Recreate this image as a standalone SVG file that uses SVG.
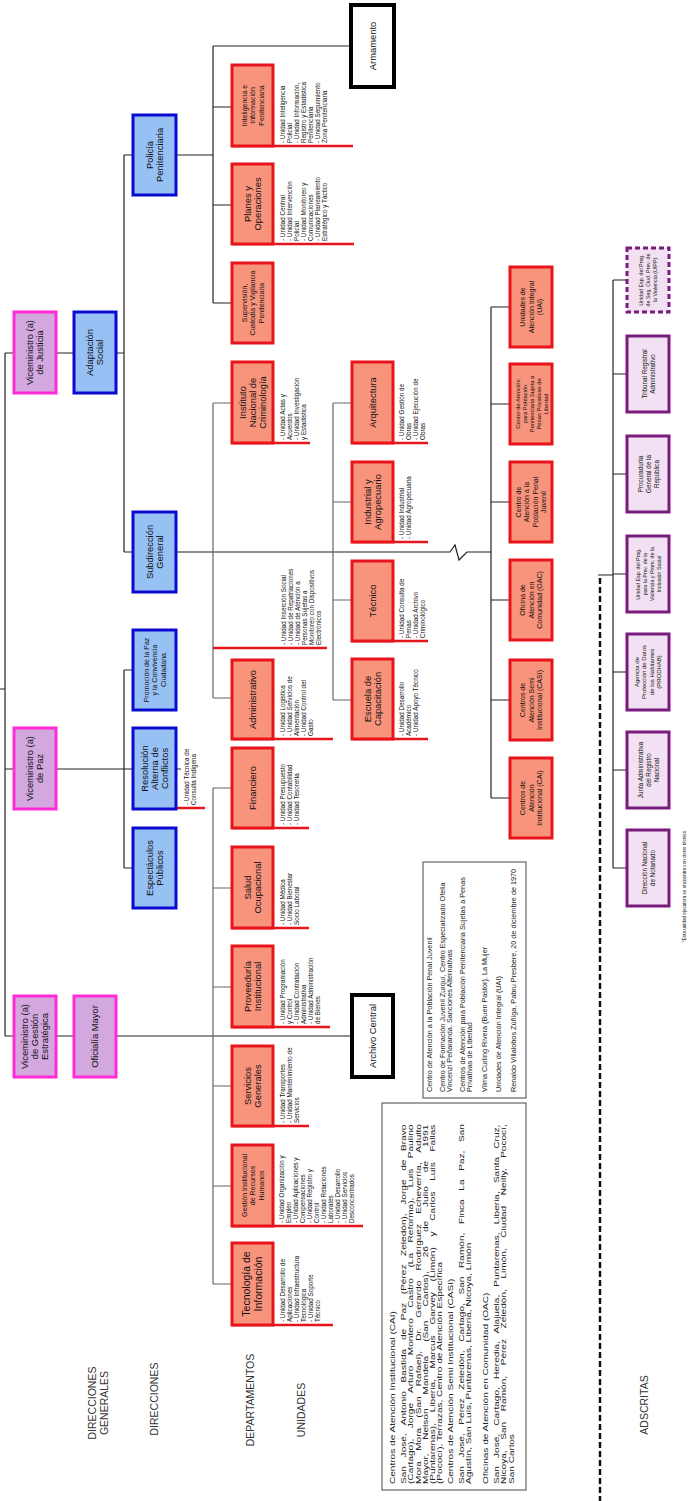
<svg xmlns="http://www.w3.org/2000/svg" width="695" height="1501" viewBox="0 0 695 1501">
<style>
text{font-family:"Liberation Sans",Arial,sans-serif;fill:#111}
.vm{fill:#D2A8DE;stroke:#FF2BD6;stroke-width:3}
.bl{fill:#97C0F4;stroke:#0A0AD0;stroke-width:3}
.rd{fill:#F8937C;stroke:#E8141B;stroke-width:3}
.bk{fill:#fff;stroke:#000;stroke-width:4}
.ad{fill:#F1E1F2;stroke:#7A1B7E;stroke-width:3}
.ln{fill:none;stroke:#222;stroke-width:1.2}
.gl{fill:none;stroke:#666;stroke-width:1.2}
.ul{fill:none;stroke:#E8141B;stroke-width:2.5}
.tb{fill:#fff;stroke:#444;stroke-width:1}
.n{font-size:9.4px;text-anchor:middle}
.s{font-size:7px;text-anchor:middle}
.u{font-size:6.3px}
.lb{font-size:10.5px;text-anchor:middle;fill:#333}
.p{font-size:7.2px;fill:#222}
</style>
<g id="connectors">
<path class="ln" d="M0 689H5M5 353V1036M5 353H14M5 769H14M5 1036H14M56 353H74M116 353H124M124 155V552M124 155H133M124 552H133M56 769H124M124 670V868M124 670H133M124 868H133M124 769H133M56 1036H74M116 1036H352M176 769H181"/>
<path class="ln" d="M176 155H213M213 46V303M213 46H351M213 107H232M213 205H232M213 303H232"/>
<path class="ln" d="M176 552H450L455 545L459 560L467 552H491"/>
<path class="gl" d="M213 403V698M213 403H232M213 698H232"/>
<path class="gl" d="M333 403V700M333 403H352M333 502H352M333 600H352M333 700H352"/>
<path class="ln" d="M491 307V798M491 307H510M491 404H510M491 502H510M491 600H510M491 700H510M491 798H510"/>
<path class="gl" d="M213 788V1284M213 788H232M213 888H232M213 987H232M213 1086H232M213 1186H232M213 1284H232"/>
<path class="ln" d="M613 280V868M598 575H613M613 280H627M613 374H627M613 474H627M613 574H627M613 672H627M613 770H627M613 868H627"/>
<path fill="none" stroke="#111" stroke-width="2.5" stroke-dasharray="6 3" d="M600 578V1501"/>
<path class="ul" d="M232 146H353M232 244H354M232 443H310M213 648H327M232 739H333M232 828H309M232 928H309M232 1027H330M232 1126H309M232 1226H363M232 1325H333M153 808H205M352 443H428M352 542H428M352 641H428M352 739H428"/>
</g>

<g id="vm-justicia"><rect class="vm" x="14" y="312" width="42" height="81"/><text class="n" transform="translate(35 352.5) rotate(-90)"><tspan x="0" y="-1.8">Viceministro (a)</tspan><tspan x="0" y="8.4">de Justicia</tspan></text></g>
<g id="vm-paz"><rect class="vm" x="14" y="728" width="42" height="81"/><text class="n" transform="translate(35 768.5) rotate(-90)"><tspan x="0" y="-1.8">Viceministro (a)</tspan><tspan x="0" y="8.4">de Paz</tspan></text></g>
<g id="vm-gestion"><rect class="vm" x="14" y="996" width="42" height="81"/><text class="n" transform="translate(35 1036.5) rotate(-90)"><tspan x="0" y="-6.8">Viceministro (a)</tspan><tspan x="0" y="3.3">de Gestión</tspan><tspan x="0" y="13.4">Estratégica</tspan></text></g>
<g id="adaptacion-social"><rect class="bl" x="74" y="312" width="42" height="81"/><text class="n" transform="translate(95 352.5) rotate(-90)"><tspan x="0" y="-1.8">Adaptación</tspan><tspan x="0" y="8.4">Social</tspan></text></g>
<g id="oficialia-mayor"><rect class="vm" x="74" y="996" width="42" height="81"/><text class="n" transform="translate(95 1036.5) rotate(-90)"><tspan x="0" y="3.3">Oficialía Mayor</tspan></text></g>

<g id="policia"><rect class="bl" x="133" y="115" width="43" height="80"/><text class="n" transform="translate(154.5 155) rotate(-90)"><tspan x="0" y="-1.8">Policía</tspan><tspan x="0" y="8.4">Penitenciaria</tspan></text></g>
<g id="subdireccion"><rect class="bl" x="133" y="512" width="43" height="80"/><text class="n" transform="translate(154.5 552) rotate(-90)"><tspan x="0" y="-1.8">Subdirección</tspan><tspan x="0" y="8.4">General</tspan></text></g>
<g id="promocion"><rect class="bl" x="133" y="630" width="43" height="80"/><text class="s" transform="translate(154.5 670) rotate(-90)"><tspan x="0" y="-6">Promoción de la Paz</tspan><tspan x="0" y="2.5">y la Convivencia</tspan><tspan x="0" y="11">Ciudadana</tspan></text></g>
<g id="resolucion"><rect class="bl" x="133" y="728" width="43" height="81"/><text class="n" transform="translate(154.5 768.5) rotate(-90)"><tspan x="0" y="-6.8">Resolución</tspan><tspan x="0" y="3.3">Alterna de</tspan><tspan x="0" y="13.4">Conflictos</tspan></text><text class="u" transform="translate(189 805) rotate(-90)"><tspan x="0" y="0">- Unidad Técnica de</tspan><tspan x="0" y="7">Consulta Indígena</tspan></text></g>
<g id="espectaculos"><rect class="bl" x="133" y="828" width="43" height="80"/><text class="n" transform="translate(154.5 868) rotate(-90)"><tspan x="0" y="-1.8">Espectáculos</tspan><tspan x="0" y="8.4">Públicos</tspan></text></g>

<g id="armamento"><rect class="bk" x="351" y="5" width="43" height="82"/><text class="n" transform="translate(372.5 46) rotate(-90)"><tspan x="0" y="3.3">Armamento</tspan></text></g>
<g id="inteligencia"><rect class="rd" x="232" y="65" width="41" height="81"/><text class="s" transform="translate(252.5 105.5) rotate(-90)"><tspan x="0" y="-6">Inteligencia e</tspan><tspan x="0" y="2.5">Información</tspan><tspan x="0" y="11">Penitenciaria</tspan></text><text class="u" transform="translate(285 143) rotate(-90)"><tspan x="0" y="0">- Unidad Inteligencia</tspan><tspan x="0" y="7">Policial</tspan><tspan x="0" y="14">- Unidad Información,</tspan><tspan x="0" y="21">Registro y Estadística</tspan><tspan x="0" y="28">Penitenciaria</tspan><tspan x="0" y="35">- Unidad Seguimiento</tspan><tspan x="0" y="42">Zona Penitenciaria</tspan></text></g>
<g id="planes"><rect class="rd" x="232" y="164" width="41" height="80"/><text class="n" transform="translate(252.5 204) rotate(-90)"><tspan x="0" y="-1.8">Planes y</tspan><tspan x="0" y="8.4">Operaciones</tspan></text><text class="u" transform="translate(285 241) rotate(-90)"><tspan x="0" y="0">- Unidad Central</tspan><tspan x="0" y="7">- Unidad Intervención</tspan><tspan x="0" y="14">Policial</tspan><tspan x="0" y="21">- Unidad Monitoreo y</tspan><tspan x="0" y="28">Comunicaciones</tspan><tspan x="0" y="35">- Unidad Planeamiento</tspan><tspan x="0" y="42">Estratégico y Táctico</tspan></text></g>
<g id="supervision"><rect class="rd" x="232" y="263" width="41" height="80"/><text class="s" transform="translate(252.5 303) rotate(-90)"><tspan x="0" y="-6">Supervisión,</tspan><tspan x="0" y="2.5">Custodia y Vigilancia</tspan><tspan x="0" y="11">Penitenciaria</tspan></text></g>
<g id="instituto"><rect class="rd" x="232" y="362" width="41" height="81"/><text class="n" transform="translate(252.5 402.5) rotate(-90)"><tspan x="0" y="-6.8">Instituto</tspan><tspan x="0" y="3.3">Nacional de</tspan><tspan x="0" y="13.4">Criminología</tspan></text><text class="u" transform="translate(285 440) rotate(-90)"><tspan x="0" y="0">- Unidad Actas y</tspan><tspan x="0" y="7">Acuerdos</tspan><tspan x="0" y="14">- Unidad Investigación</tspan><tspan x="0" y="21">y Estadística</tspan></text></g>
<g id="unidades-subdireccion"><text class="u" transform="translate(286 645) rotate(-90)"><tspan x="0" y="0">- Unidad Inserción Social</tspan><tspan x="0" y="7">- Unidad de Repatriaciones</tspan><tspan x="0" y="14">- Unidad de Atención a</tspan><tspan x="0" y="21">Personas Sujetas a</tspan><tspan x="0" y="28">Monitoreo con Dispositivos</tspan><tspan x="0" y="35">Electrónicos</tspan></text></g>
<g id="administrativo"><rect class="rd" x="232" y="660" width="41" height="79"/><text class="n" transform="translate(252.5 699.5) rotate(-90)"><tspan x="0" y="3.3">Administrativo</tspan></text><text class="u" transform="translate(285 736) rotate(-90)"><tspan x="0" y="0">- Unidad Logística</tspan><tspan x="0" y="7">- Unidad Servicios de</tspan><tspan x="0" y="14">Alimentación</tspan><tspan x="0" y="21">- Unidad Control del</tspan><tspan x="0" y="28">Gasto</tspan></text></g>
<g id="financiero"><rect class="rd" x="232" y="748" width="41" height="80"/><text class="n" transform="translate(252.5 788) rotate(-90)"><tspan x="0" y="3.3">Financiero</tspan></text><text class="u" transform="translate(285 825) rotate(-90)"><tspan x="0" y="0">- Unidad Presupuesto</tspan><tspan x="0" y="7">- Unidad Contabilidad</tspan><tspan x="0" y="14">- Unidad Tesorería</tspan></text></g>
<g id="salud"><rect class="rd" x="232" y="847" width="41" height="81"/><text class="n" transform="translate(252.5 887.5) rotate(-90)"><tspan x="0" y="-1.8">Salud</tspan><tspan x="0" y="8.4">Ocupacional</tspan></text><text class="u" transform="translate(285 925) rotate(-90)"><tspan x="0" y="0">- Unidad Médica</tspan><tspan x="0" y="7">- Unidad Bienestar</tspan><tspan x="0" y="14">Socio Laboral</tspan></text></g>
<g id="proveeduria"><rect class="rd" x="232" y="946" width="41" height="81"/><text class="n" transform="translate(252.5 986.5) rotate(-90)"><tspan x="0" y="-1.8">Proveeduría</tspan><tspan x="0" y="8.4">Institucional</tspan></text><text class="u" transform="translate(285 1024) rotate(-90)"><tspan x="0" y="0">- Unidad Programación</tspan><tspan x="0" y="7">y Control</tspan><tspan x="0" y="14">- Unidad Contratación</tspan><tspan x="0" y="21">Administrativa</tspan><tspan x="0" y="28">- Unidad Administración</tspan><tspan x="0" y="35">de Bienes</tspan></text></g>
<g id="archivo-central"><rect class="bk" x="352" y="995" width="41" height="82"/><text class="n" transform="translate(372.5 1036) rotate(-90)"><tspan x="0" y="3.3">Archivo Central</tspan></text></g>
<g id="servicios-generales"><rect class="rd" x="232" y="1046" width="41" height="80"/><text class="n" transform="translate(252.5 1086) rotate(-90)"><tspan x="0" y="-1.8">Servicios</tspan><tspan x="0" y="8.4">Generales</tspan></text><text class="u" transform="translate(285 1123) rotate(-90)"><tspan x="0" y="0">- Unidad Transportes</tspan><tspan x="0" y="7">- Unidad Mantenimiento de</tspan><tspan x="0" y="14">Servicios</tspan></text></g>
<g id="recursos-humanos"><rect class="rd" x="232" y="1145" width="41" height="81"/><text class="s" transform="translate(252.5 1185.5) rotate(-90)"><tspan x="0" y="-6">Gestión Institucional</tspan><tspan x="0" y="2.5">de Recursos</tspan><tspan x="0" y="11">Humanos</tspan></text><text class="u" transform="translate(284 1223) rotate(-90)"><tspan x="0" y="0">- Unidad Organización y</tspan><tspan x="0" y="7">Empleo</tspan><tspan x="0" y="14">- Unidad Aplicaciones y</tspan><tspan x="0" y="21">Compensaciones</tspan><tspan x="0" y="28">- Unidad Registro y</tspan><tspan x="0" y="35">Control</tspan><tspan x="0" y="42">- Unidad Relaciones</tspan><tspan x="0" y="49">Laborales</tspan><tspan x="0" y="56">- Unidad Desarrollo</tspan><tspan x="0" y="63">- Unidad Servicios</tspan><tspan x="0" y="70">Desconcentrados</tspan></text></g>
<g id="tecnologia"><rect class="rd" x="232" y="1243" width="41" height="82"/><text class="n" style="font-size:10.5px" transform="translate(252.5 1284) rotate(-90)"><tspan x="0" y="-2.5">Tecnología de</tspan><tspan x="0" y="9.5">Información</tspan></text><text class="u" transform="translate(285 1322) rotate(-90)"><tspan x="0" y="0">- Unidad Desarrollo de</tspan><tspan x="0" y="7">Aplicaciones</tspan><tspan x="0" y="14">- Unidad Infraestructura</tspan><tspan x="0" y="21">Tecnológica</tspan><tspan x="0" y="28">- Unidad Soporte</tspan><tspan x="0" y="35">Técnico</tspan></text></g>

<g id="arquitectura"><rect class="rd" x="352" y="362" width="41" height="81"/><text class="n" transform="translate(372.5 402.5) rotate(-90)"><tspan x="0" y="3.3">Arquitectura</tspan></text><text class="u" transform="translate(404 440) rotate(-90)"><tspan x="0" y="0">- Unidad Gestión de</tspan><tspan x="0" y="7">Obras</tspan><tspan x="0" y="14">- Unidad Ejecución de</tspan><tspan x="0" y="21">Obras</tspan></text></g>
<g id="industrial"><rect class="rd" x="352" y="462" width="41" height="80"/><text class="n" transform="translate(372.5 502) rotate(-90)"><tspan x="0" y="-1.8">Industrial y</tspan><tspan x="0" y="8.4">Agropecuario</tspan></text><text class="u" transform="translate(404 539) rotate(-90)"><tspan x="0" y="0">- Unidad Industrial</tspan><tspan x="0" y="7">- Unidad Agropecuaria</tspan></text></g>
<g id="tecnico"><rect class="rd" x="352" y="561" width="41" height="80"/><text class="n" transform="translate(372.5 601) rotate(-90)"><tspan x="0" y="3.3">Técnico</tspan></text><text class="u" transform="translate(404 638) rotate(-90)"><tspan x="0" y="0">- Unidad Consulta de</tspan><tspan x="0" y="7">Penas</tspan><tspan x="0" y="14">- Unidad Archivo</tspan><tspan x="0" y="21">Criminológico</tspan></text></g>
<g id="escuela"><rect class="rd" x="352" y="659" width="41" height="80"/><text class="n" transform="translate(372.5 699) rotate(-90)"><tspan x="0" y="-1.8">Escuela de</tspan><tspan x="0" y="8.4">Capacitación</tspan></text><text class="u" transform="translate(404 736) rotate(-90)"><tspan x="0" y="0">- Unidad Desarrollo</tspan><tspan x="0" y="7">Académico</tspan><tspan x="0" y="14">- Unidad Apoyo Técnico</tspan></text></g>

<g id="uai"><rect class="rd" x="510" y="267" width="42" height="80"/><text class="s" transform="translate(531 307) rotate(-90)"><tspan x="0" y="-6">Unidades de</tspan><tspan x="0" y="2.5">Atención Integral</tspan><tspan x="0" y="11">(UAI)</tspan></text></g>
<g id="capps"><rect class="rd" x="510" y="364" width="42" height="80"/><text class="s" style="font-size:5.8px" transform="translate(531 404) rotate(-90)"><tspan x="0" y="-11">Centro de Atención</tspan><tspan x="0" y="-4">para Población</tspan><tspan x="0" y="3">Penitenciaria Sujeta a</tspan><tspan x="0" y="10">Penas Privativas de</tspan><tspan x="0" y="17">Libertad</tspan></text></g>
<g id="juvenil"><rect class="rd" x="510" y="462" width="42" height="80"/><text class="s" transform="translate(531 502) rotate(-90)"><tspan x="0" y="-10.5">Centro de</tspan><tspan x="0" y="-2">Atención a la</tspan><tspan x="0" y="6.5">Población Penal</tspan><tspan x="0" y="15">Juvenil</tspan></text></g>
<g id="oac"><rect class="rd" x="510" y="560" width="42" height="80"/><text class="s" transform="translate(531 600) rotate(-90)"><tspan x="0" y="-6">Oficina de</tspan><tspan x="0" y="2.5">Atención en</tspan><tspan x="0" y="11">Comunidad (OAC)</tspan></text></g>
<g id="casi"><rect class="rd" x="510" y="660" width="42" height="80"/><text class="s" transform="translate(531 700) rotate(-90)"><tspan x="0" y="-6">Centros de</tspan><tspan x="0" y="2.5">Atención Semi</tspan><tspan x="0" y="11">Institucional (CASI)</tspan></text></g>
<g id="cai"><rect class="rd" x="510" y="758" width="42" height="80"/><text class="s" transform="translate(531 798) rotate(-90)"><tspan x="0" y="-6">Centros de</tspan><tspan x="0" y="2.5">Atención</tspan><tspan x="0" y="11">Institucional (CAI)</tspan></text></g>

<g id="uipp"><rect class="ad" style="stroke-dasharray:5 3" x="627" y="248" width="42" height="64"/><text class="s" style="font-size:5.3px" transform="translate(648 280) rotate(-90)"><tspan x="0" y="-5">Unidad Esp. del Prog.</tspan><tspan x="0" y="2">de Seg. Ciud. Prev. de</tspan><tspan x="0" y="9">la Violencia (UIPP)</tspan></text></g>
<g id="tribunal"><rect class="ad" x="627" y="336" width="42" height="76"/><text class="s" style="font-size:6.3px" transform="translate(648 374) rotate(-90)"><tspan x="0" y="-1.5">Tribunal Registral</tspan><tspan x="0" y="6.5">Administrativo</tspan></text></g>
<g id="procuraduria"><rect class="ad" x="627" y="436" width="42" height="76"/><text class="s" style="font-size:6.3px" transform="translate(648 474) rotate(-90)"><tspan x="0" y="-5.5">Procuraduría</tspan><tspan x="0" y="2.5">General de la</tspan><tspan x="0" y="10.5">República</tspan></text></g>
<g id="unidad-prevencion"><rect class="ad" x="627" y="536" width="42" height="76"/><text class="s" style="font-size:5.3px" transform="translate(648 574) rotate(-90)"><tspan x="0" y="-8.5">Unidad Esp. del Prog.</tspan><tspan x="0" y="-1.5">para la Prev. de la</tspan><tspan x="0" y="5.5">Violencia y Prom. de la</tspan><tspan x="0" y="12.5">Inclusión Social</tspan></text></g>
<g id="prodhab"><rect class="ad" x="627" y="634" width="42" height="76"/><text class="s" style="font-size:6px" transform="translate(648 672) rotate(-90)"><tspan x="0" y="-9.5">Agencia de</tspan><tspan x="0" y="-2">Protección de Datos</tspan><tspan x="0" y="5.5">de los Habitantes</tspan><tspan x="0" y="13">(PRODHAB)</tspan></text></g>
<g id="junta"><rect class="ad" x="627" y="732" width="42" height="76"/><text class="s" style="font-size:6.3px" transform="translate(648 770) rotate(-90)"><tspan x="0" y="-5.5">Junta Administrativa</tspan><tspan x="0" y="2.5">del Registro</tspan><tspan x="0" y="10.5">Nacional</tspan></text></g>
<g id="notariado"><rect class="ad" x="627" y="830" width="42" height="76"/><text class="s" style="font-size:6.3px" transform="translate(648 868) rotate(-90)"><tspan x="0" y="-1.5">Dirección Nacional</tspan><tspan x="0" y="6.5">de Notariado</tspan></text></g>
<text style="font-size:4.6px" transform="translate(686 942) rotate(-90)">*Esta unidad ejecutora se encuentra con cierre técnico</text>

<g id="texto-cai"><rect class="tb" x="382" y="1103" width="144" height="387"/>
<text class="p" transform="translate(395 1484) rotate(-90) scale(1.4 1)"><tspan x="0" y="0">Centros de Atención Institucional (CAI)</tspan><tspan x="0" y="11" word-spacing="4.2">San José, Antonio Bastida de Paz (Pérez Zeledón), Jorge de Bravo</tspan><tspan x="0" y="18.3" word-spacing="5.5">(Cartago), Jorge Arturo Montero Castro (La Reforma), Luis Paulino</tspan><tspan x="0" y="25.6" word-spacing="5.3">Mora Mora (San Rafael), Dr. Gerardo Rodríguez Echeverría, Adulto</tspan><tspan x="0" y="32.9" word-spacing="8">Mayor, Nelson Mandela (San Carlos), 26 de Julio de 1991</tspan><tspan x="0" y="40.2" word-spacing="5.7">(Puntarenas), Liberia, Marcus Garvey (Limón) y Carlos Luis Fallas</tspan><tspan x="0" y="47.5">(Pococí), Terrazas, Centro de Atención Específica</tspan><tspan x="0" y="58">Centros de Atención Semi Institucional (CASI)</tspan><tspan x="0" y="69" word-spacing="4.2">San José, Pérez Zeledón, Cartago, San Ramón, Finca La Paz, San</tspan><tspan x="0" y="76.3">Agustín, San Luis, Puntarenas, Liberia, Nicoya, Limón</tspan><tspan x="0" y="93">Oficinas de Atención en Comunidad (OAC)</tspan><tspan x="0" y="104" word-spacing="3.8">San José, Cartago, Heredia, Alajuela, Puntarenas, Liberia, Santa Cruz,</tspan><tspan x="0" y="111.3" word-spacing="5.6">Nicoya, San Ramón, Pérez Zeledón, Limón, Ciudad Neilly, Pococí,</tspan><tspan x="0" y="118.6">San Carlos</tspan></text></g>
<g id="texto-juvenil"><rect class="tb" x="423" y="862" width="103" height="236"/>
<text class="p" style="font-size:7px" transform="translate(432 1092) rotate(-90) scale(1.04 1)"><tspan x="0" y="0">Centro de Atención a la Población Penal Juvenil</tspan><tspan x="0" y="13">Centro de Formación Juvenil Zurquí, Centro Especializado Ofelia</tspan><tspan x="0" y="20">Vincenzi Peñaranda, Sanciones Alternativas</tspan><tspan x="0" y="33">Centros de Atención para Población Penitenciaria Sujetas a Penas</tspan><tspan x="0" y="40">Privativas de Libertad</tspan><tspan x="0" y="55">Vilma Curling Rivera (Buen Pastor), La Mujer</tspan><tspan x="0" y="69">Unidades de Atención Integral (UAI)</tspan><tspan x="0" y="84">Renaldo Villalobos Zúñiga, Pabru Presbere, 20 de diciembre de 1970</tspan></text></g>

<g id="etiquetas">
<text class="lb" transform="translate(98 1403) rotate(-90)"><tspan x="0" y="-2">DIRECCIONES</tspan><tspan x="0" y="10">GENERALES</tspan></text>
<text class="lb" transform="translate(158 1399) rotate(-90)">DIRECCIONES</text>
<text class="lb" transform="translate(254 1400) rotate(-90)">DEPARTAMENTOS</text>
<text class="lb" transform="translate(305 1410) rotate(-90)">UNIDADES</text>
<text class="lb" transform="translate(648 1405) rotate(-90)">ADSCRITAS</text>
</g>
</svg>
